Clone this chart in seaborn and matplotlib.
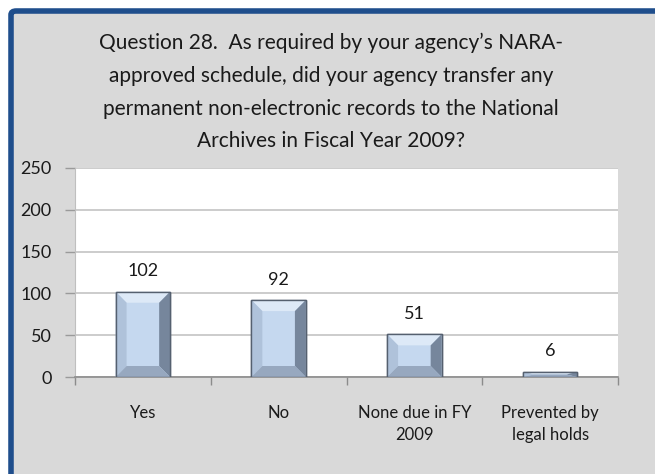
import matplotlib
matplotlib.use("Agg")
import matplotlib.pyplot as plt
import matplotlib.patches as mpatches
import seaborn as sns
import pandas as pd

categories = ["Yes", "No", "None due in FY\n2009", "Prevented by\nlegal holds"]
counts = [102, 92, 51, 6]
title = ("Question 28.  As required by your agency\u2019s NARA-\n"
         "approved schedule, did your agency transfer any\n"
         "permanent non-electronic records to the National\n"
         "Archives in Fiscal Year 2009?")

sns.set_style("white")
plt.rcParams['font.family'] = ['Lato', 'DejaVu Sans']

df = pd.DataFrame({"category": categories, "count": counts})

fig = plt.figure(figsize=(6.55, 4.74), dpi=100)
fig.patch.set_facecolor("white")

# gray panel with the dark blue frame on top and left
panel = mpatches.FancyBboxPatch((11 / 655, -0.05), 1.2, (474 - 11) / 474 + 0.05,
                                boxstyle="round,pad=0,rounding_size=0.008",
                                transform=fig.transFigure, facecolor="#d9d9d9",
                                edgecolor="#1f4e8c", linewidth=4, zorder=-10)
fig.patches.append(panel)

ax = fig.add_axes([75 / 655, 97 / 474, 543 / 655, 209 / 474])
ax.set_facecolor("white")

sns.barplot(data=df, x="category", y="count", ax=ax, color="#c5d8ef",
            width=0.40, saturation=1, edgecolor="#4f5b6b", linewidth=1.0,
            zorder=3)

ax.set_ylim(0, 250)
ax.set_xlim(-0.5, 3.5)

# bevel look for each bar, built from the bar geometry
units_per_px = 250 / 209
for bar in list(ax.patches):
    x0, w, h = bar.get_x(), bar.get_width(), bar.get_height()
    x1 = x0 + w
    bx = w * 0.2
    by = min(11 * units_per_px, h / 2)
    faces = [
        ([(x0, h), (x1, h), (x1 - bx, h - by), (x0 + bx, h - by)], "#dde9f7"),
        ([(x0, 0), (x0, h), (x0 + bx, h - by), (x0 + bx, by)], "#afc2da"),
        ([(x1, 0), (x1, h), (x1 - bx, h - by), (x1 - bx, by)], "#76869c"),
        ([(x0, 0), (x1, 0), (x1 - bx, by), (x0 + bx, by)], "#97a8bf"),
    ]
    for pts, col in faces:
        ax.add_patch(mpatches.Polygon(pts, closed=True, facecolor=col,
                                      edgecolor="none", zorder=4))
    ax.add_patch(mpatches.Rectangle((x0, 0), w, h, facecolor="none",
                                    edgecolor="#55606f", linewidth=1.0, zorder=5))

ax.bar_label(ax.containers[0], padding=9, fontsize=13, color="#1a1a1a")

ax.set_yticks(range(0, 251, 50))
ax.grid(axis="y", color="#c8c8c8", linewidth=1.3, zorder=0)
ax.set_axisbelow(True)
for side in ["top", "right"]:
    ax.spines[side].set_visible(False)
ax.spines["left"].set_color("#bfbfbf")
ax.spines["bottom"].set_color("#8c8c8c")
ax.spines["bottom"].set_linewidth(1.2)

ax.set_xlabel("")
ax.set_ylabel("")
ax.tick_params(axis="y", labelsize=13, length=7, width=1, color="#9a9a9a",
               pad=10, labelcolor="#1a1a1a", left=True)
ax.tick_params(axis="x", labelsize=12, length=0, pad=20, labelcolor="#1a1a1a")
ax.set_xticks([0, 1, 2, 3])
ax.set_xticklabels(categories, linespacing=1.5)

# category boundary ticks
ax.set_xticks([-0.5, 0.5, 1.5, 2.5, 3.5], minor=True)
ax.tick_params(axis="x", which="minor", length=6, color="#8c8c8c", width=1, bottom=True)

fig.text(0.505, 0.806, title, ha="center", va="center", fontsize=15,
         linespacing=1.8, color="#1a1a1a")

fig.savefig("out.png", dpi=100)
